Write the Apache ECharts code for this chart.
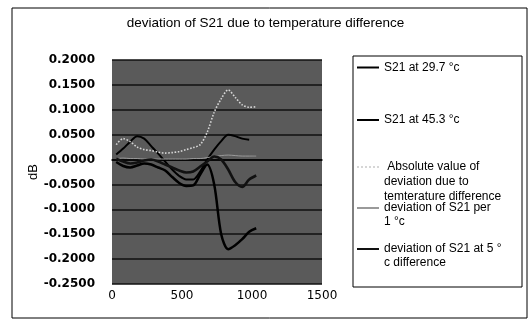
<!DOCTYPE html>
<html><head><meta charset="utf-8">
<script src="https://cdn.jsdelivr.net/npm/echarts@6/dist/echarts.min.js"></script>
<style>html,body{margin:0;padding:0;background:#fff}#c{width:531px;height:325px}</style>
</head><body><div id="c"></div>
<script>
// ---- data ----
const freq = [30, 80, 130, 180, 230, 280, 330, 380, 430, 480, 530, 580, 630, 680, 730, 780, 830, 880, 930, 980, 1030];
const s21At297 = [0.010, 0.022, 0.036, 0.047, 0.042, 0.027, 0.012, -0.004, -0.020, -0.033, -0.040, -0.040, -0.024, 0.000, 0.020, 0.037, 0.050, 0.047, 0.042, 0.040, null];
const s21At453 = [-0.005, -0.013, -0.016, -0.012, -0.008, -0.010, -0.016, -0.022, -0.035, -0.047, -0.053, -0.052, -0.030, -0.010, -0.050, -0.150, -0.180, -0.172, -0.160, -0.145, -0.138];
const absDeviation = [0.030, 0.042, 0.036, 0.025, 0.020, 0.018, 0.015, 0.013, 0.014, 0.016, 0.020, 0.024, 0.030, 0.055, 0.095, 0.122, 0.140, 0.125, 0.110, 0.105, 0.106];
const devPer1C = [0.002, 0.003, 0.002, 0.002, 0.001, 0.001, 0.001, 0.001, 0.001, 0.001, 0.001, 0.002, 0.002, 0.004, 0.006, 0.008, 0.009, 0.008, 0.007, 0.007, 0.007];
const devAt5C = [0.002, -0.004, -0.008, -0.006, -0.002, 0.000, -0.004, -0.010, -0.016, -0.022, -0.026, -0.024, -0.014, -0.004, 0.006, 0.000, -0.020, -0.045, -0.055, -0.040, -0.032];
const seriesNames = ['S21 at 29.7 °c', 'S21 at 45.3 °c', ' Absolute value of\ndeviation due to\ntemterature difference', 'deviation of S21 per\n1 °c', 'deviation of S21 at 5 °\nc difference'];
const titleText = 'deviation of S21 due to temperature difference';
const xName = 'frequency(MHz)';
const yName = 'dB';
const yMin = -0.25, yMax = 0.2, yStep = 0.05;
const xMin = 0, xMax = 1500, xStep = 500;

// ---- chart ----
const chart = echarts.init(document.getElementById('c'), null, {renderer: 'canvas'});
const pair = arr => freq.map((f, i) => [f, arr[i]]);
const seriesData = [s21At297, s21At453, absDeviation, devPer1C, devAt5C];
const lineStyles = [
  {color: '#000000', width: 2, type: 'solid'},
  {color: '#000000', width: 2.5, type: 'solid'},
  {color: '#d6d6d6', width: 1.6, type: 'dotted'},
  {color: '#9a9a9a', width: 1, type: 'solid'},
  {color: '#111111', width: 2.6, type: 'solid'}
];
const legendTops = [60, 112.5, 129.5, 187, 228];
const legendPads = ['', '', '\n\n', '\n', '\n'];
const legendLH = [15, 15, 15, 14, 14];

const baseFont = 'Liberation Sans, Arial, sans-serif';

const option = {
  backgroundColor: '#ffffff',
  animation: false,
  title: {
    text: titleText, left: 'center', top: 11,
    textStyle: {fontFamily: baseFont, fontSize: 13.5, fontWeight: 'normal', color: '#000'}
  },
  grid: {left: 112, right: 209, top: 60, bottom: 41, show: true, backgroundColor: '#5a5a5a', borderWidth: 0,
    containLabel: false, outerBoundsMode: 'none'},
  xAxis: {
    type: 'value', min: xMin, max: xMax, interval: xStep,
    name: xName, nameLocation: 'middle', nameGap: 123,
    nameTextStyle: {fontFamily: baseFont, fontSize: 12.5, color: '#000'},
    axisLine: {show: true, onZero: true, lineStyle: {color: '#000', width: 1.5}},
    axisTick: {show: false},
    splitLine: {show: false},
    axisLabel: {margin: 6, color: '#000', fontFamily: 'DejaVu Sans', fontSize: 12, formatter: v => String(v)}
  },
  yAxis: {
    type: 'value', min: yMin, max: yMax, interval: yStep,
    name: yName, nameLocation: 'middle', nameGap: 70,
    nameTextStyle: {fontFamily: baseFont, fontSize: 13, color: '#000'},
    axisLine: {show: false}, axisTick: {show: false},
    splitLine: {show: true, lineStyle: {color: '#111', width: 1.5}},
    axisLabel: {margin: 17, color: '#000', fontFamily: 'DejaVu Sans', fontWeight: 'bold', fontSize: 12,
      formatter: v => v.toFixed(4)}
  },
  legend: seriesNames.map((n, i) => ({
    data: [n], orient: 'vertical', left: 356, top: legendTops[i], padding: 0,
    itemWidth: 22, itemHeight: 14, selectedMode: false,
    itemStyle: {opacity: 0},
    formatter: name => legendPads[i] + name,
    textStyle: {fontFamily: baseFont, fontSize: 12, color: '#000', lineHeight: legendLH[i]}
  })),
  graphic: [
    {type: 'rect', shape: {x: 12, y: 8, width: 515, height: 310}, style: {fill: 'none', stroke: '#000', lineWidth: 1}, silent: true},
    {type: 'rect', shape: {x: 353, y: 56, width: 169, height: 231}, style: {fill: 'none', stroke: '#000', lineWidth: 1}, silent: true}
  ],
  series: seriesNames.map((n, i) => ({
    name: n, type: 'line', data: pair(seriesData[i]), showSymbol: false, symbol: 'none',
    smooth: 0.3, connectNulls: false, lineStyle: lineStyles[i], itemStyle: {color: lineStyles[i].color}
  }))
};
chart.setOption(option);
</script></body></html>
